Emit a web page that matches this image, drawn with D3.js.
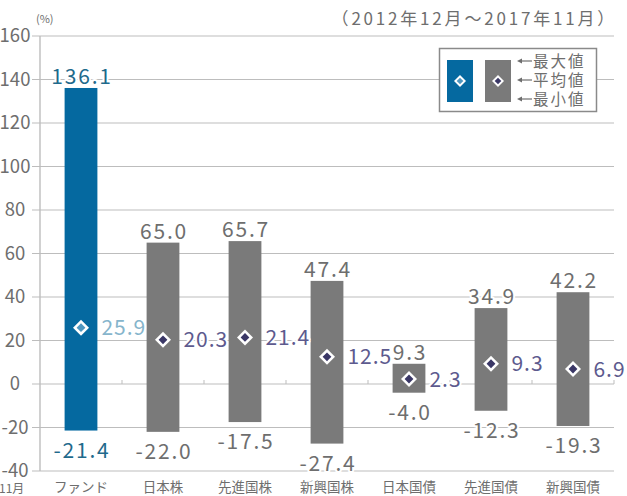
<!DOCTYPE html>
<html><head><meta charset="utf-8">
<script src="https://cdn.jsdelivr.net/npm/d3@7"></script>
<style>
html,body{margin:0;padding:0;background:#fff;}
svg{display:block;}
text{font-family:"Noto Sans CJK JP","Noto Sans",sans-serif;}
</style></head>
<body><svg id="c" width="627" height="496"></svg>
<script>
const categories = ["ファンド","日本株","先進国株","新興国株","日本国債","先進国債","新興国債"];
const maxValues  = [136.1, 65.0, 65.7, 47.4, 9.3, 34.9, 42.2];
const meanValues = [25.9, 20.3, 21.4, 12.5, 2.3, 9.3, 6.9];
const minValues  = [-21.4, -22.0, -17.5, -27.4, -4.0, -12.3, -19.3];
const yTicks = [-40,-20,0,20,40,60,80,100,120,140,160];
const legendLabels = ["最大値","平均値","最小値"];
const unitLabel = "(%)";
const periodLabel = "（2012年12月～2017年11月）";
const axisEndLabel = "11月";

const data = categories.map((c,i)=>({cat:c,max:maxValues[i],mean:meanValues[i],min:minValues[i],fund:i===0}));

const svg = d3.select("#c");
const x = d3.scaleBand().domain(categories).range([40,614]).paddingInner(0.6).paddingOuter(0.3);
const y = d3.scaleLinear().domain([-40,160]).range([471,36]);

const BLUE="#0569a0", GRAY="#7a7a7a", GRID="#bdbdbd", TXT="#6e6e6e";
const BLUE_TXT="#1f6a8c", MEAN_BLUE="#86b5cc", MEAN_TXT="#5d5a8e", NAVY="#3a3766";

// gridlines
svg.append("g").selectAll("line").data(yTicks).join("line")
  .attr("x1",32).attr("x2",614).attr("y1",d=>y(d)).attr("y2",d=>y(d))
  .attr("stroke",GRID).attr("stroke-width",1.2);
// y axis line
svg.append("line").attr("x1",40).attr("x2",40).attr("y1",y(160)).attr("y2",y(-40))
  .attr("stroke",GRID).attr("stroke-width",1.4);
// small ticks at band boundaries on zero line
const bounds = categories.map(c=>x(c)-x.step()*x.paddingInner()/2+x.step());
svg.append("g").selectAll("line").data(bounds).join("line")
  .attr("x1",d=>d).attr("x2",d=>d).attr("y1",y(0)-4).attr("y2",y(0))
  .attr("stroke",GRID).attr("stroke-width",1);

// y tick labels
svg.append("g").selectAll("text").data(yTicks).join("text")
  .attr("x",15).attr("y",d=>y(d)).attr("dy","0.35em").attr("text-anchor","middle")
  .attr("font-size",18.5).attr("fill",TXT).text(d=>d);

// top labels
svg.append("text").attr("x",36).attr("y",23).attr("font-size",11).attr("fill",TXT).text(unitLabel);
svg.append("text").attr("x",617).attr("y",25).attr("text-anchor","end").attr("font-size",17)
  .attr("letter-spacing",2.8).attr("fill",TXT).text(periodLabel);

// bars
svg.append("g").selectAll("rect").data(data).join("rect")
  .attr("x",d=>x(d.cat)).attr("width",x.bandwidth())
  .attr("y",d=>y(d.max)).attr("height",d=>y(d.min)-y(d.max))
  .attr("fill",d=>d.fund?BLUE:GRAY);

// diamonds
function diamond(g, cx, cy, fund, r){
  const outer = r, inner = r*0.55;
  g.append("path").attr("d",`M${cx},${cy-outer}L${cx+outer},${cy}L${cx},${cy+outer}L${cx-outer},${cy}Z`).attr("fill","#fff");
  g.append("path").attr("d",`M${cx},${cy-inner}L${cx+inner},${cy}L${cx},${cy+inner}L${cx-inner},${cy}Z`).attr("fill",fund?"#4f97c0":NAVY);
}
const dg = svg.append("g");
data.forEach(d=>diamond(dg, x(d.cat)+x.bandwidth()/2, y(d.mean), d.fund, 8));

// value labels
const lab = svg.append("g").attr("font-size",21).attr("letter-spacing",1.8)
  .attr("stroke","#fff").attr("stroke-width",4).attr("paint-order","stroke").attr("stroke-linejoin","round");
lab.selectAll("text.max").data(data).join("text").attr("class","max")
  .attr("x",d=>x(d.cat)+x.bandwidth()/2+1).attr("y",d=>y(d.max)-4).attr("text-anchor","middle")
  .attr("fill",d=>d.fund?BLUE_TXT:TXT).text(d=>d.max.toFixed(1));
lab.selectAll("text.min").data(data).join("text").attr("class","min")
  .attr("x",d=>x(d.cat)+x.bandwidth()/2+1).attr("y",d=>y(d.min)+27).attr("text-anchor","middle")
  .attr("fill",d=>d.fund?BLUE_TXT:TXT).text(d=>d.min.toFixed(1));
lab.selectAll("text.mean").data(data).join("text").attr("class","mean")
  .attr("x",d=>x(d.cat)+x.bandwidth()+4).attr("y",d=>y(d.mean)).attr("dy","0.36em")
  .attr("letter-spacing",1).attr("fill",d=>d.fund?MEAN_BLUE:MEAN_TXT).text(d=>d.mean.toFixed(1));

// category labels
svg.append("g").selectAll("text").data(categories).join("text")
  .attr("x",d=>x(d)+x.bandwidth()/2).attr("y",492).attr("text-anchor","middle")
  .attr("font-size",13.5).attr("fill",TXT).text(d=>d);
svg.append("text").attr("x",-1).attr("y",493).attr("font-size",12).attr("fill",TXT).text(axisEndLabel);

// legend
const lg = svg.append("g");
lg.append("rect").attr("x",439.5).attr("y",48.5).attr("width",157).attr("height",63)
  .attr("fill","#fff").attr("stroke","#8a8a8a").attr("stroke-width",1.5);
lg.append("rect").attr("x",447).attr("y",60).attr("width",26).attr("height",42).attr("fill",BLUE);
lg.append("rect").attr("x",485).attr("y",60).attr("width",26).attr("height",42).attr("fill",GRAY);
diamond(lg,460,81,true,6);
diamond(lg,498,81,false,6);
const ly = [61,80,99];
legendLabels.forEach((t,i)=>{
  lg.append("line").attr("x1",519).attr("x2",532).attr("y1",ly[i]).attr("y2",ly[i]).attr("stroke",TXT).attr("stroke-width",1.2);
  lg.append("path").attr("d",`M517,${ly[i]}L522,${ly[i]-2.5}L522,${ly[i]+2.5}Z`).attr("fill",TXT);
  lg.append("text").attr("x",533).attr("y",ly[i]).attr("dy","0.36em").attr("font-size",15.5)
    .attr("letter-spacing",2).attr("fill",TXT).text(t);
});
</script></body></html>
